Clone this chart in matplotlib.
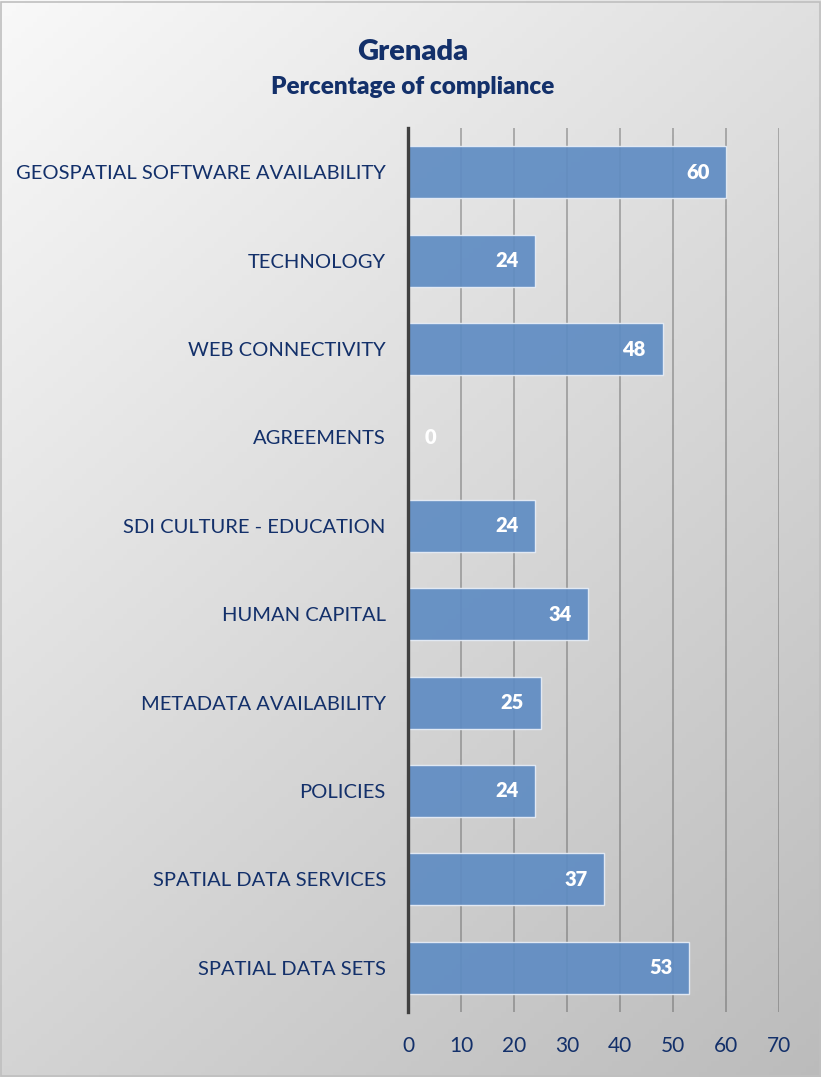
import matplotlib
matplotlib.use("Agg")
import matplotlib.pyplot as plt
import matplotlib.patches as mpatches
import numpy as np

# Data (top to bottom as shown)
categories = [
    "GEOSPATIAL SOFTWARE AVAILABILITY",
    "TECHNOLOGY",
    "WEB CONNECTIVITY",
    "AGREEMENTS",
    "SDI CULTURE - EDUCATION",
    "HUMAN CAPITAL",
    "METADATA AVAILABILITY",
    "POLICIES",
    "SPATIAL DATA SERVICES",
    "SPATIAL DATA SETS",
]
values = [60, 24, 48, 0, 24, 34, 25, 24, 37, 53]
xticks = [0, 10, 20, 30, 40, 50, 60, 70]

navy = "#13306A"
bar_color = "#5F8CC3"

plt.rcParams["font.family"] = ["Lato", "DejaVu Sans"]

fig = plt.figure(figsize=(8.21, 10.77), dpi=100)

# Gradient background (light top-left -> darker bottom-right)
bg = fig.add_axes([0, 0, 1, 1], zorder=-10)
yy, xx = np.mgrid[0:1:200j, 0:1:200j]
grad = 0.6 * yy + 0.4 * xx
gray = 0.975 - 0.24 * grad
bg.imshow(np.dstack([gray, gray, gray]), aspect="auto",
          extent=[0, 1, 0, 1], origin="upper")
bg.set_xlim(0, 1)
bg.set_ylim(0, 1)
bg.axis("off")
bg.add_patch(mpatches.Rectangle((0.001, 0.001), 0.998, 0.997, fill=False,
                                edgecolor="#BFBFBF", linewidth=1.2,
                                transform=bg.transAxes))

ax = fig.add_axes([0.497, 0.0604, 0.452, 0.8207])
ax.patch.set_alpha(0)

y = np.arange(len(categories))
bars = ax.barh(y, values, height=0.59, color=bar_color, alpha=0.92,
               edgecolor="#E8EEF7", linewidth=1.0, zorder=3)

for bar, v in zip(bars, values):
    yc = bar.get_y() + bar.get_height() / 2
    if v > 0:
        ax.annotate(f"{v}", xy=(v, yc), xytext=(-12, 0), textcoords="offset points",
                    ha="right", va="center", color="white", fontsize=14.5,
                    fontweight="heavy", zorder=5)
    else:
        ax.annotate(f"{v}", xy=(v, yc), xytext=(12, 0), textcoords="offset points",
                    ha="left", va="center", color="white", fontsize=14.5,
                    fontweight="heavy", zorder=5)

ax.set_xlim(0, 70)
ax.set_ylim(len(categories) - 0.5, -0.5)
ax.set_xticks(xticks)
ax.set_yticks(y)
ax.set_yticklabels(categories)
ax.grid(True, axis="x", color="#5A5A5A", alpha=0.45, linewidth=1.3, zorder=0)
ax.set_axisbelow(True)

for s in ["top", "right", "bottom"]:
    ax.spines[s].set_visible(False)
ax.spines["left"].set_color("#404040")
ax.spines["left"].set_linewidth(2.4)
ax.spines["left"].set_zorder(6)

ax.tick_params(axis="y", length=0, pad=16, labelsize=14.5, labelcolor=navy)
ax.tick_params(axis="x", length=0, pad=17, labelsize=15, labelcolor=navy)

fig.text(0.503, 0.952, "Grenada", ha="center", va="center", fontsize=21,
         fontweight="heavy", color=navy)
fig.text(0.503, 0.919, "Percentage of compliance", ha="center", va="center",
         fontsize=17.5, fontweight="heavy", color=navy)

fig.savefig("out.png", dpi=100)
